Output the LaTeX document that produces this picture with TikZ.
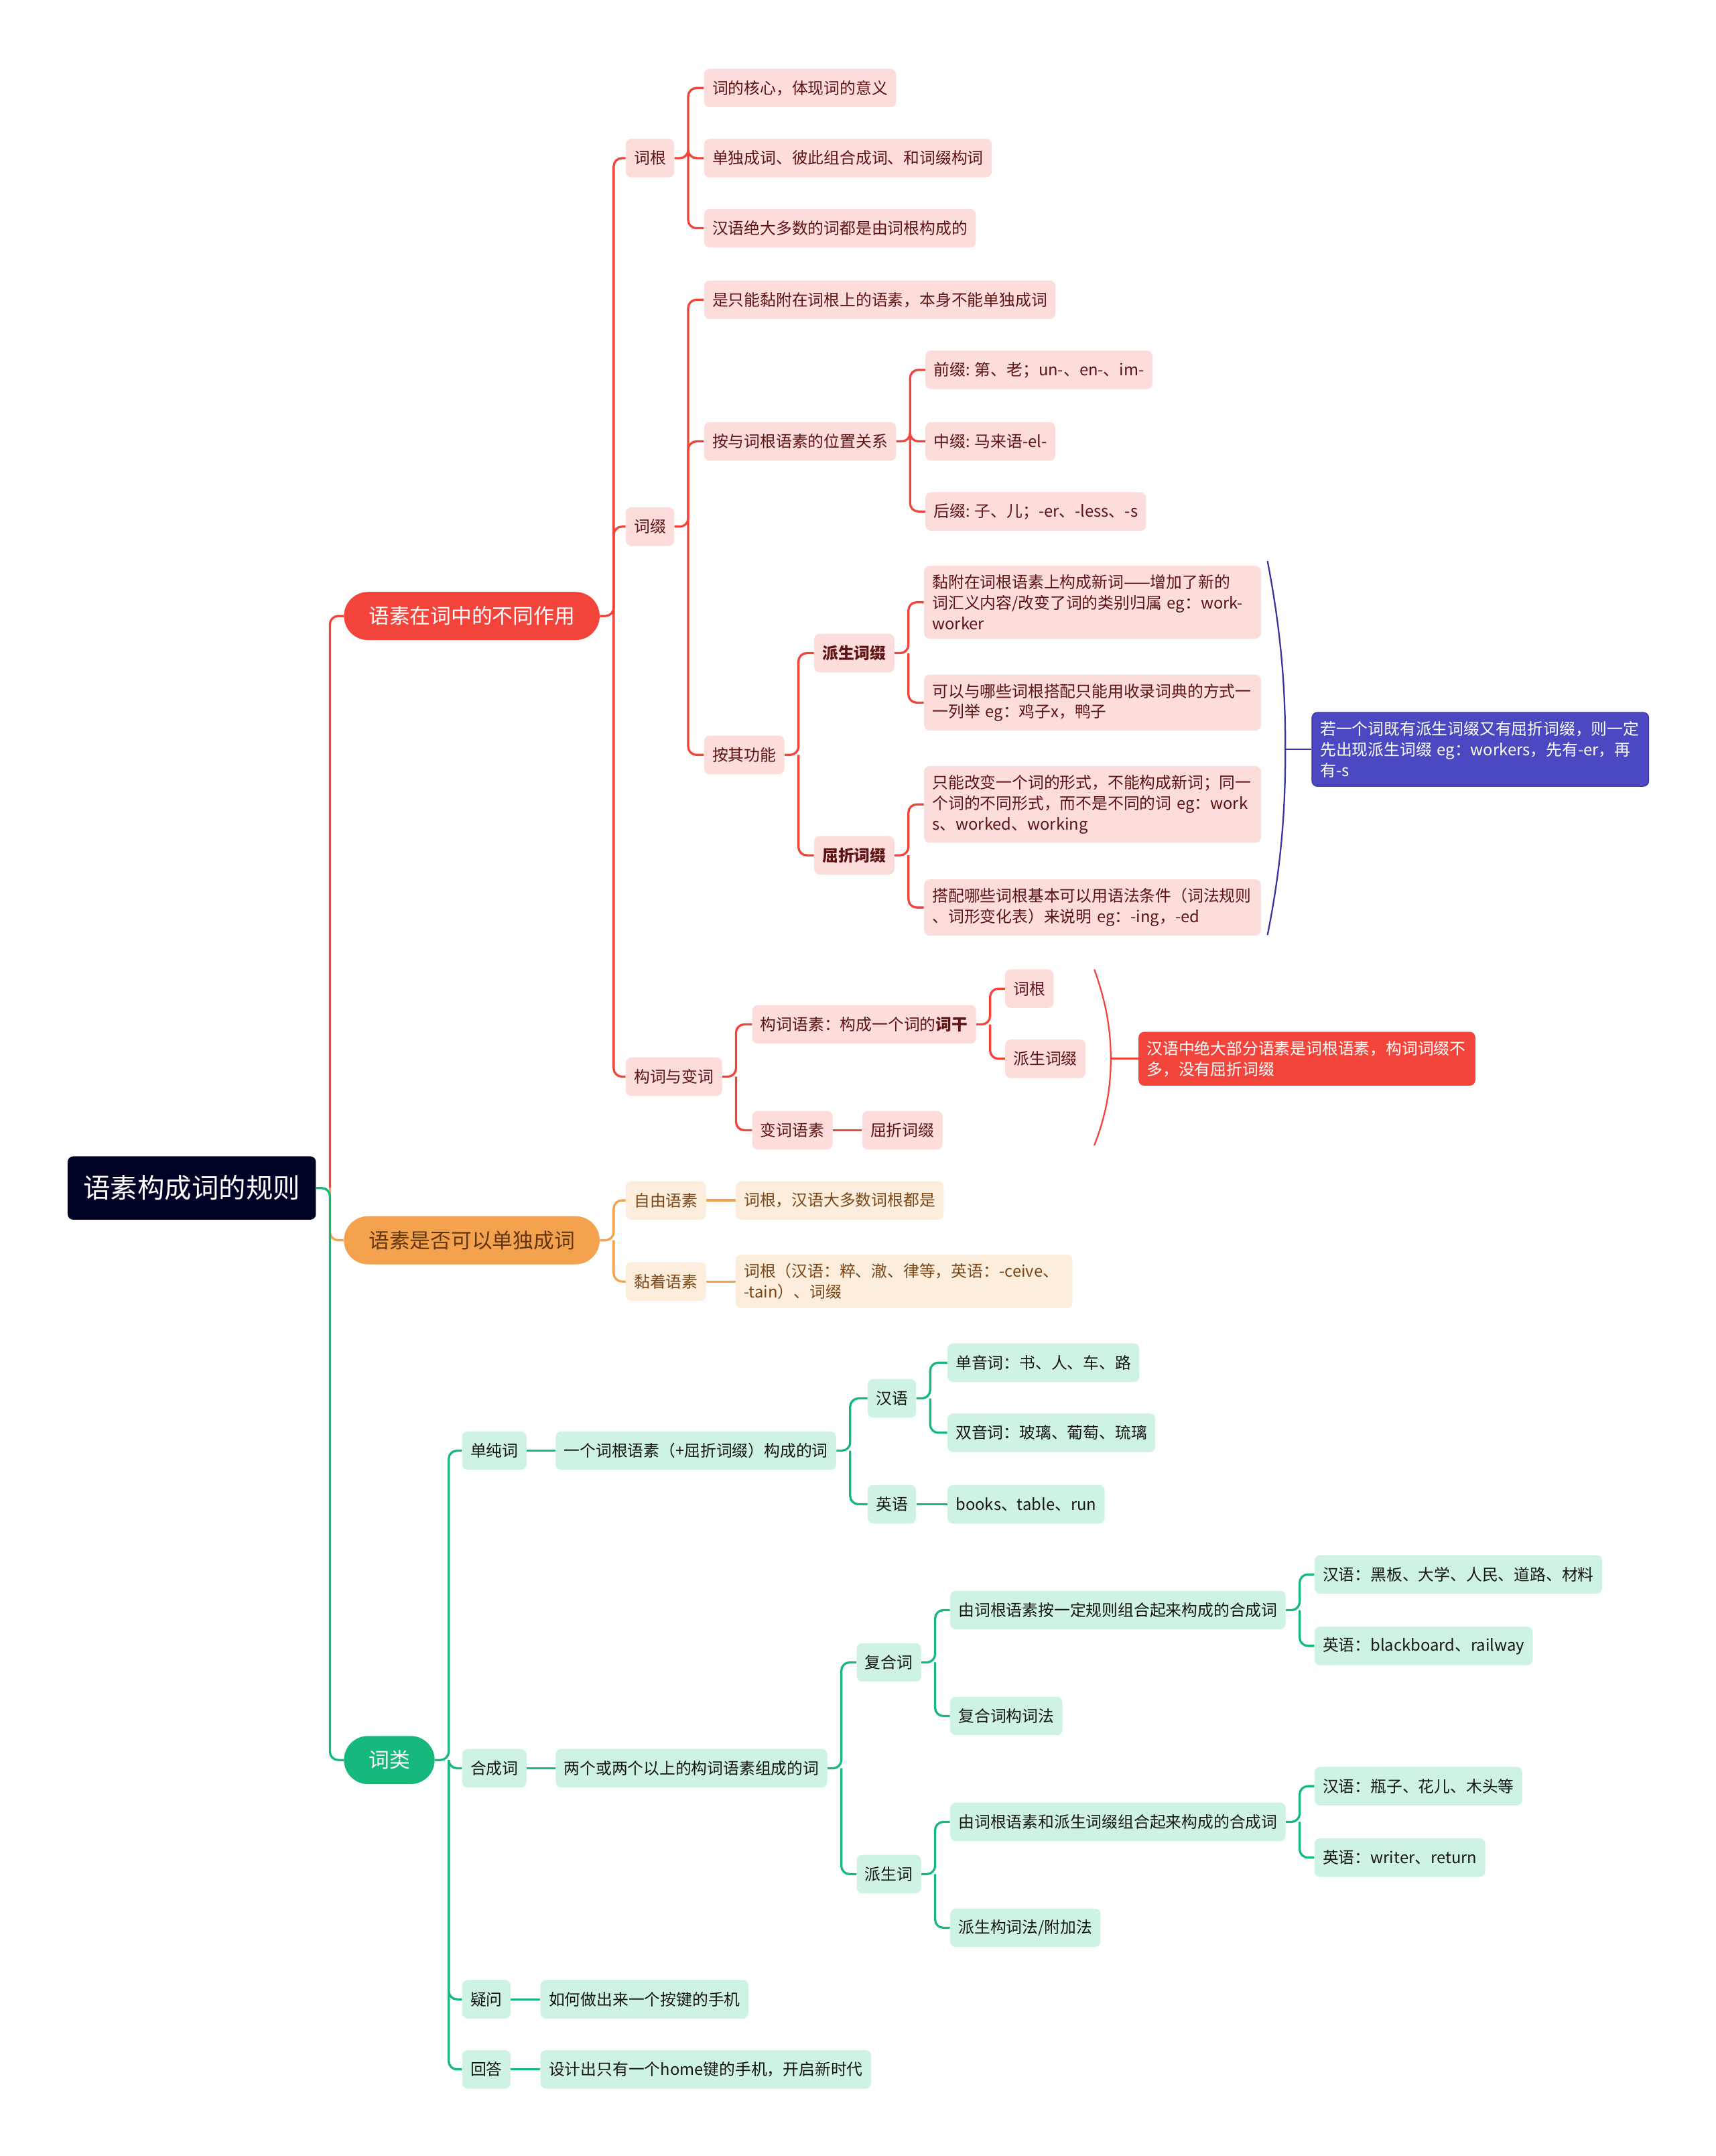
\documentclass[tikz,border=0pt]{standalone}
\usepackage{fontspec}
\setmainfont{Noto Sans CJK SC}
\definecolor{rootfill}{HTML}{000226}
\definecolor{redmain}{HTML}{F3443B}
\definecolor{pinkfill}{HTML}{FDDCDC}
\definecolor{pinktext}{HTML}{5E1414}
\definecolor{orgmain}{HTML}{F4A24E}
\definecolor{peachfill}{HTML}{FDEDDC}
\definecolor{peachtext}{HTML}{7A4616}
\definecolor{grnmain}{HTML}{16B87B}
\definecolor{mintfill}{HTML}{CFF3E3}
\definecolor{minttext}{HTML}{161616}
\definecolor{indigo}{HTML}{4B48C2}
\definecolor{indigoline}{HTML}{38359E}
\begin{document}
\begin{tikzpicture}[x=1pt,y=-1pt]
  \tikzstyle{box}=[rectangle,rounded corners=4pt,minimum height=28pt,inner xsep=6pt,inner ysep=2pt,anchor=west,font=\fontsize{11.6}{15}\selectfont]
  \tikzstyle{pinkbox}=[box,fill=pinkfill,text=pinktext]
  \tikzstyle{peachbox}=[box,fill=peachfill,text=peachtext]
  \tikzstyle{mintbox}=[box,fill=mintfill,text=minttext]
  \tikzstyle{wide}=[text width=233pt,align=left,inner ysep=6.5pt]
  \tikzstyle{topic}=[rectangle,rounded corners=17.5pt,minimum height=35pt,inner xsep=18pt,anchor=west,text=white,font=\fontsize{15}{18}\selectfont]
  \tikzstyle{redline}=[draw=redmain,line width=1.6pt,rounded corners=6pt]
  \tikzstyle{orgline}=[draw=orgmain,line width=1.6pt,rounded corners=6pt]
  \tikzstyle{grnline}=[draw=grnmain,line width=1.6pt,rounded corners=6pt]
  \tikzstyle{brace}=[line width=1.1pt]
  \useasboundingbox (0,0) rectangle (1248,1568);

  % root and main topics
  \node [rectangle,rounded corners=4pt,fill=rootfill,text=white,anchor=west,minimum height=46pt,inner xsep=11.5pt,font=\fontsize{19.7}{24}\selectfont] (root) at (49,864) {语素构成词的规则};
  \node [topic,fill=redmain] (roles) at (250,448) {语素在词中的不同作用};
  \node [topic,fill=orgmain,text=peachtext!80!black] (alone) at (250,902) {语素是否可以单独成词};
  \node [topic,fill=grnmain] (cls) at (250,1280) {词类};

  % 语素在词中的不同作用
  \node [pinkbox] (croot) at (455,115) {词根};
  \node [pinkbox] (caffix) at (455,383) {词缀};
  \node [pinkbox] (cbuild) at (455,783) {构词与变词};
  \node [pinkbox] (r1) at (512,64) {词的核心，体现词的意义};
  \node [pinkbox] (r2) at (512,115) {单独成词、彼此组合成词、和词缀构词};
  \node [pinkbox] (r3) at (512,166) {汉语绝大多数的词都是由词根构成的};
  \node [pinkbox] (a1) at (512,218) {是只能黏附在词根上的语素，本身不能单独成词};
  \node [pinkbox] (apos) at (512,321) {按与词根语素的位置关系};
  \node [pinkbox] (afun) at (512,549) {按其功能};
  \node [pinkbox] (pre) at (673,269) {前缀: 第、老；un-、en-、im-};
  \node [pinkbox] (inf) at (673,321) {中缀: 马来语-el-};
  \node [pinkbox] (suf) at (673,372) {后缀: 子、儿；-er、-less、-s};
  \node [pinkbox,font=\fontsize{11.6}{15}\selectfont\bfseries] (deriv) at (592,475) {派生词缀};
  \node [pinkbox,font=\fontsize{11.6}{15}\selectfont\bfseries] (infl) at (592,622) {屈折词缀};
  \node [pinkbox,wide] (d1) at (672,438) {黏附在词根语素上构成新词——增加了新的\\词汇义内容/改变了词的类别归属 eg：work-\\worker};
  \node [pinkbox,wide] (d2) at (672,511) {可以与哪些词根搭配只能用收录词典的方式一\\一列举 eg：鸡子x，鸭子};
  \node [pinkbox,wide] (i1) at (672,585) {只能改变一个词的形式，不能构成新词；同一\\个词的不同形式，而不是不同的词 eg：work\\s、worked、working};
  \node [pinkbox,wide] (i2) at (672,660) {搭配哪些词根基本可以用语法条件（词法规则\\、词形变化表）来说明 eg：-ing，-ed};
  \node [box,wide,fill=indigo,draw=indigoline,line width=0.6pt,text=white] (order) at (954,545) {若一个词既有派生词缀又有屈折词缀，则一定\\先出现派生词缀 eg：workers，先有-er，再\\有-s};
  \node [pinkbox] (bmorph) at (547,745) {构词语素：构成一个词的\textbf{词干}};
  \node [pinkbox] (cmorph) at (547,822) {变词语素};
  \node [pinkbox] (broot) at (731,719) {词根};
  \node [pinkbox] (bder) at (731,770) {派生词缀};
  \node [pinkbox] (cinfl) at (627,822) {屈折词缀};
  \node [box,wide,fill=redmain,text=white] (note) at (828,770) {汉语中绝大部分语素是词根语素，构词词缀不\\多，没有屈折词缀};

  % 语素是否可以单独成词
  \node [peachbox] (fm) at (455,873) {自由语素};
  \node [peachbox] (bm) at (455,932) {黏着语素};
  \node [peachbox] (fmleaf) at (535,873) {词根，汉语大多数词根都是};
  \node [peachbox,wide] (bmleaf) at (535,932) {词根（汉语：粹、澈、律等，英语：-ceive、\\-tain）、词缀};

  % 词类
  \node [mintbox] (simple) at (336,1055) {单纯词};
  \node [mintbox] (comp) at (336,1286) {合成词};
  \node [mintbox] (ask) at (336,1454) {疑问};
  \node [mintbox] (reply) at (336,1505) {回答};
  \node [mintbox] (sdef) at (404,1055) {一个词根语素（+屈折词缀）构成的词};
  \node [mintbox] (han) at (631,1017) {汉语};
  \node [mintbox] (ying) at (631,1094) {英语};
  \node [mintbox] (mono) at (689,991) {单音词：书、人、车、路};
  \node [mintbox] (di) at (689,1042) {双音词：玻璃、葡萄、琉璃};
  \node [mintbox] (eng) at (689,1094) {books、table、run};
  \node [mintbox] (cdef) at (404,1286) {两个或两个以上的构词语素组成的词};
  \node [mintbox] (fuhe) at (623,1209) {复合词};
  \node [mintbox] (paish) at (623,1363) {派生词};
  \node [mintbox] (fh1) at (691,1171) {由词根语素按一定规则组合起来构成的合成词};
  \node [mintbox] (fh2) at (691,1248) {复合词构词法};
  \node [mintbox] (fh1a) at (956,1145) {汉语：黑板、大学、人民、道路、材料};
  \node [mintbox] (fh1b) at (956,1197) {英语：blackboard、railway};
  \node [mintbox] (ps1) at (691,1325) {由词根语素和派生词缀组合起来构成的合成词};
  \node [mintbox] (ps2) at (691,1402) {派生构词法/附加法};
  \node [mintbox] (ps1a) at (956,1299) {汉语：瓶子、花儿、木头等};
  \node [mintbox] (ps1b) at (956,1351) {英语：writer、return};
  \node [mintbox] (askleaf) at (393,1454) {如何做出来一个按键的手机};
  \node [mintbox] (replyleaf) at (393,1505) {设计出只有一个home键的手机，开启新时代};

  % connectors
  \draw[redline] (root.east) ++(10,0) |- (roles.west);
  \draw[orgline] (root.east) ++(10,0) |- (alone.west);
  \draw[grnline] (root.east) -- ++(10,0) |- (cls.west);

  \draw[redline] (roles.east) -- ++(10,0) |- (croot.west);
  \draw[redline] (roles.east) ++(10,0) |- (caffix.west);
  \draw[redline] (roles.east) ++(10,0) |- (cbuild.west);
  \draw[redline] (croot.east) -- ++(10,0) |- (r1.west);
  \draw[redline] (croot.east) ++(10,0) |- (r2.west);
  \draw[redline] (croot.east) ++(10,0) |- (r3.west);
  \draw[redline] (caffix.east) -- ++(10,0) |- (a1.west);
  \draw[redline] (caffix.east) ++(10,0) |- (apos.west);
  \draw[redline] (caffix.east) ++(10,0) |- (afun.west);
  \draw[redline] (apos.east) -- ++(10,0) |- (pre.west);
  \draw[redline] (apos.east) ++(10,0) |- (inf.west);
  \draw[redline] (apos.east) ++(10,0) |- (suf.west);
  \draw[redline] (afun.east) -- ++(10,0) |- (deriv.west);
  \draw[redline] (afun.east) ++(10,0) |- (infl.west);
  \draw[redline] (deriv.east) -- ++(10,0) |- (d1.west);
  \draw[redline] (deriv.east) ++(10,0) |- (d2.west);
  \draw[redline] (infl.east) -- ++(10,0) |- (i1.west);
  \draw[redline] (infl.east) ++(10,0) |- (i2.west);
  \draw[redline] (cbuild.east) -- ++(10,0) |- (bmorph.west);
  \draw[redline] (cbuild.east) ++(10,0) |- (cmorph.west);
  \draw[redline] (bmorph.east) -- ++(10,0) |- (broot.west);
  \draw[redline] (bmorph.east) ++(10,0) |- (bder.west);
  \draw[redline] (cmorph.east) -- (cinfl.west);

  % summary braces
  \coordinate (bt) at (922,408);
  \coordinate (bc) at (935,545);
  \coordinate (bb) at (922,680);
  \draw[brace,indigoline] (bt) .. controls (932,460) and (935,500) .. (bc) .. controls (935,590) and (932,630) .. (bb);
  \draw[brace,indigoline] (bc) -- (order.west);
  \coordinate (rt) at (796,705);
  \coordinate (rc) at (808,770);
  \coordinate (rb) at (796,833);
  \draw[brace,redmain] (rt) .. controls (805,730) and (808,750) .. (rc) .. controls (808,790) and (805,810) .. (rb);
  \draw[brace,redmain,line width=1.6pt] (rc) -- (note.west);

  \draw[orgline] (alone.east) -- ++(10,0) |- (fm.west);
  \draw[orgline] (alone.east) ++(10,0) |- (bm.west);
  \draw[orgline] (fm.east) -- (fmleaf.west);
  \draw[orgline] (bm.east) -- (bmleaf.west);

  \draw[grnline] (cls.east) -- ++(10,0) |- (simple.west);
  \draw[grnline] (cls.east) ++(10,0) |- (comp.west);
  \draw[grnline] (cls.east) ++(10,0) |- (ask.west);
  \draw[grnline] (cls.east) ++(10,0) |- (reply.west);
  \draw[grnline] (simple.east) -- (sdef.west);
  \draw[grnline] (sdef.east) -- ++(10,0) |- (han.west);
  \draw[grnline] (sdef.east) ++(10,0) |- (ying.west);
  \draw[grnline] (han.east) -- ++(10,0) |- (mono.west);
  \draw[grnline] (han.east) ++(10,0) |- (di.west);
  \draw[grnline] (ying.east) -- (eng.west);
  \draw[grnline] (comp.east) -- (cdef.west);
  \draw[grnline] (cdef.east) -- ++(10,0) |- (fuhe.west);
  \draw[grnline] (cdef.east) ++(10,0) |- (paish.west);
  \draw[grnline] (fuhe.east) -- ++(10,0) |- (fh1.west);
  \draw[grnline] (fuhe.east) ++(10,0) |- (fh2.west);
  \draw[grnline] (fh1.east) -- ++(10,0) |- (fh1a.west);
  \draw[grnline] (fh1.east) ++(10,0) |- (fh1b.west);
  \draw[grnline] (paish.east) -- ++(10,0) |- (ps1.west);
  \draw[grnline] (paish.east) ++(10,0) |- (ps2.west);
  \draw[grnline] (ps1.east) -- ++(10,0) |- (ps1a.west);
  \draw[grnline] (ps1.east) ++(10,0) |- (ps1b.west);
  \draw[grnline] (ask.east) -- (askleaf.west);
  \draw[grnline] (reply.east) -- (replyleaf.west);
\end{tikzpicture}
\end{document}
